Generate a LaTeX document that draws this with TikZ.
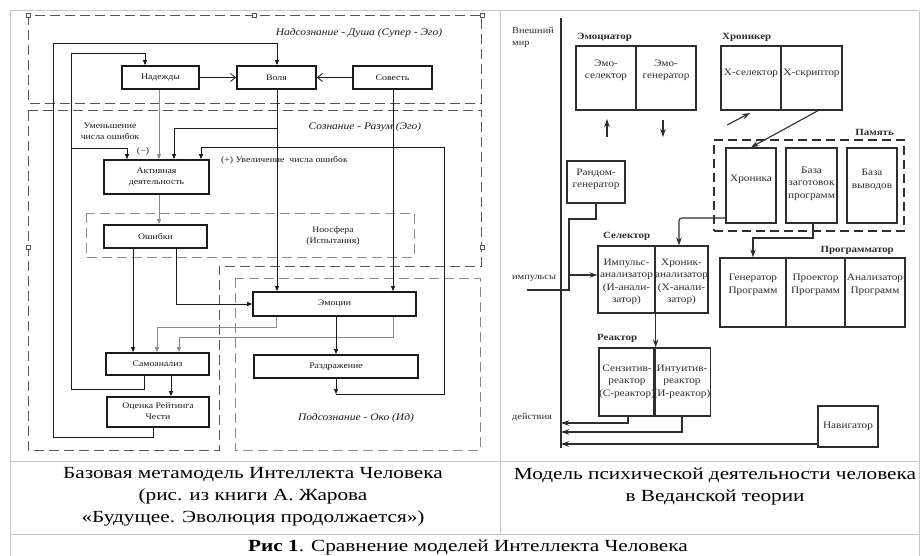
\documentclass[tikz,border=0pt]{standalone}
\usepackage{fontspec}
\setmainfont{Liberation Serif}
\newfontfamily\capfont[FakeStretch=1.25]{Liberation Serif}
\newfontfamily\dfont[FakeStretch=1.15]{Liberation Serif}
\usetikzlibrary{arrows.meta,calc}
\newcommand\upT[2]{\raisebox{#1}[\height][\depth]{\begin{tabular}{@{}c@{}}#2\end{tabular}}}
\definecolor{ink}{HTML}{1A1A1A}
\definecolor{rink}{HTML}{2E2E2E}
\definecolor{tline}{HTML}{C8C8C8}
\definecolor{dgray}{HTML}{555555}
\definecolor{lgray}{HTML}{8A8A8A}
\tikzset{
  lbox/.style={draw=ink, line width=1.8pt, fill=white, inner sep=0pt, font=\dfont\fontsize{8.5}{11}\selectfont, text=ink},
  rbox/.style={draw=rink, line width=1.3pt, inner sep=0pt, font=\dfont\fontsize{9.8}{12.5}\selectfont, text=rink},
  conn/.style={draw=ink, line width=0.8pt, -{Triangle[length=5pt,width=4pt]}},
  bconn/.style={draw=ink, line width=0.8pt, -{Straight Barb[length=5pt,width=8pt]}},
  region/.style={draw=dgray, line width=0.9pt, dash pattern=on 10pt off 5pt},
  lregion/.style={draw=lgray, line width=0.8pt, dash pattern=on 10pt off 5pt},
  ilab/.style={font=\dfont\itshape\fontsize{10}{12}\selectfont, text=ink, inner sep=0pt},
  slab/.style={font=\dfont\fontsize{8.5}{11}\selectfont, text=ink, inner sep=0pt},
  handle/.style={draw=dgray, fill=white, line width=0.6pt},
  rline/.style={draw=rink, line width=1.1pt},
  rarrow/.style={draw=rink, line width=1.1pt, -{Stealth[length=8pt,width=5.5pt]}},
  rtitle/.style={font=\dfont\bfseries\fontsize{9.5}{12}\selectfont, text=rink, inner sep=0pt},
  rlab/.style={font=\dfont\fontsize{9}{12}\selectfont, text=rink, inner sep=0pt},
  pambox/.style={draw=rink, line width=1.3pt, dash pattern=on 9pt off 5pt, inner sep=0pt},
  captxt/.style={font=\capfont\fontsize{17}{22}\selectfont, text=black, inner sep=0pt, align=center},
  tl/.style={draw=tline, line width=1pt}
}
\begin{document}
\begin{tikzpicture}[x=1pt, y=-1pt]
\useasboundingbox (0,0) rectangle (920,556);
\fill[white] (0,0) rectangle (920,556);
% table lines
\draw[tl] (10,11) -- (919,11);
\draw[tl] (10,11) -- (10,556);
\draw[tl] (919,11) -- (919,556);
\draw[tl] (10,461) -- (919,461);
\draw[tl] (10,534) -- (919,534);
\draw[tl] (500,11) -- (500,534);

% ===== LEFT DIAGRAM =====
\draw[region] (28,15) rectangle (481,103);
\draw[region] (28,110) -- (481,110) -- (481,266) -- (219,266) -- (219,450) -- (28,450) -- cycle;
\draw[lregion] (235,278) rectangle (480,450);
\draw[lregion] (86,213) rectangle (414,257);
\foreach \p in {(28,15),(254,15),(482,15),(28,247),(482,247)}
  \draw[handle] \p ++(-2,-2) rectangle ++(4,4);

\node[ilab] (lNad) at (359,33) {Надсознание - Душа (Супер - Эго)};
\node[ilab] (lSoz) at (365,127) {Сознание - Разум (Эго)};
\node[ilab] (lPod) at (356,418) {Подсознание - Око (Ид)};
\node[slab, align=center] (lNoo) at (333,236) {Ноосфера\\(Испытания)};
\node[slab, align=center] (lUm) at (110,131) {Уменьшение\\числа ошибок};
\node[slab] (lMinus) at (143,151) {(−)};
\node[slab, anchor=west] (lPlus) at (221,160) {(+) Увеличение\ \ числа ошибок};

\node[lbox, minimum width=77, minimum height=23] (nad) at (160.5,77.5) {Надежды};
\node[lbox, minimum width=79, minimum height=23] (vol) at (276.5,77.5) {Воля};
\node[lbox, minimum width=79, minimum height=23] (sov) at (392.5,77.5) {Совесть};
\node[lbox, minimum width=105, minimum height=34] (akt) at (156.5,177) {\upT{0pt}{Активная\\деятельность}};
\node[lbox, minimum width=103, minimum height=23] (osh) at (155.5,236.5) {Ошибки};
\node[lbox, minimum width=163, minimum height=24] (emo) at (334.5,304) {Эмоции};
\node[lbox, minimum width=164, minimum height=23] (raz) at (336,366.5) {Раздражение};
\node[lbox, minimum width=103, minimum height=22] (sam) at (157.5,364) {Самоанализ};
\node[lbox, minimum width=102, minimum height=30] (ots) at (158,412) {\upT{0pt}{Оценка Рейтинга\\Чести}};

\draw[conn] (153,0 |- ots.south) -- (153,437) -| (53,43) -| (277,0 |- vol.north);
\draw[conn] (144,0 |- sam.south) -- (144,389) -| (71,53) -| (145,0 |- nad.north);
\draw[conn] (71,148) -| (127,0 |- akt.north);
\draw[conn, draw=lgray] (159,0 |- nad.south) -- (159,0 |- akt.north);
\draw[conn] (277,0 |- vol.south) -- (277,0 |- emo.north);
\draw[conn] (277,128) -| (174,0 |- akt.north);
\draw[conn] (393,0 |- sov.south) -- (393,0 |- emo.north);
\coordinate (r1) at (336,394);
\draw[conn] (336,0 |- raz.south) -- (r1);
\draw[conn] (r1) -- (444,394) |- (201,147) -- (201,0 |- akt.north);
\draw[conn, draw=lgray] (159,0 |- akt.south) -- (159,0 |- osh.north);
\draw[conn] (133,0 |- osh.south) -- (133,0 |- sam.north);
\draw[conn] (176,0 |- osh.south) |- (emo.west);
\draw[conn, draw=lgray] (276,0 |- emo.south) -- (276,327) -| (157,0 |- sam.north);
\draw[conn, draw=lgray] (393,0 |- emo.south) -- (393,337) -| (179,0 |- sam.north);
\draw[conn] (336,0 |- emo.south) -- (336,0 |- raz.north);
\draw[conn] (171,0 |- sam.south) -- (171,0 |- ots.north);
\draw[bconn] (nad.east) -- (vol.west);
\draw[bconn] (sov.west) -- (vol.east);

% ===== RIGHT DIAGRAM =====
\coordinate (wtop) at (561,18);
\coordinate (wbot) at (561,448);
\draw[draw=rink, line width=1.4pt] (wtop) -- (wbot);

\node[rlab, anchor=north west, align=left] (tWorld) at (512,27) {Внешний\\мир};
\node[rtitle, anchor=west] (tEmoc) at (577,37) {Эмоциатор};
\node[rtitle, anchor=west] (tChr) at (722,37) {Хроникер};
\node[rtitle, anchor=east] (tPam) at (894,132) {Память};
\node[rtitle, anchor=west] (tSel) at (603,236) {Селектор};
\node[rtitle, anchor=east] (tProg) at (894,250) {Программатор};
\node[rtitle, anchor=west] (tRea) at (597,338) {Реактор};
\node[rlab, anchor=west] (tImp) at (512,278) {импульсы};
\node[rlab, anchor=west] (tDej) at (512,417) {действия};

\node[rbox, minimum width=60, minimum height=64] (emoSel) at (606,78) {\upT{8pt}{Эмо-\\селектор}};
\node[rbox, minimum width=60, minimum height=64] (emoGen) at (666,78) {\upT{8pt}{Эмо-\\генератор}};
\node[rbox, minimum width=60, minimum height=64] (chrSel) at (751,78) {\upT{5pt}{Х-селектор}};
\node[rbox, minimum width=61, minimum height=64] (chrScr) at (811.5,78) {\upT{5pt}{Х-скриптор}};
\node[pambox, minimum width=190, minimum height=91] (pam) at (809,185.5) {};
\node[rbox, minimum width=50, minimum height=75] (chron) at (751,185.5) {\upT{6pt}{Хроника}};
\node[rbox, minimum width=51, minimum height=75] (bazaZ) at (811.5,185.5) {\upT{2pt}{База\\заготовок\\программ}};
\node[rbox, minimum width=50, minimum height=75] (bazaV) at (872,185.5) {\upT{6pt}{База\\выводов}};
\node[rbox, minimum width=58, minimum height=42] (rand) at (596,182) {\upT{3pt}{Рандом-\\генератор}};
\node[rbox, minimum width=57, minimum height=67] (impA) at (626.5,279.5) {\upT{-2pt}{Импульс-\\анализатор\\(И-анали-\\затор)}};
\node[rbox, minimum width=53, minimum height=67] (chrA) at (681.5,279.5) {\upT{-2pt}{Хроник-\\анализатор\\(Х-анали-\\затор)}};
\node[rbox, minimum width=66, minimum height=69] (gen) at (753,292.5) {\upT{8pt}{Генератор\\Программ}};
\node[rbox, minimum width=59, minimum height=69] (proj) at (815.5,292.5) {\upT{8pt}{Проектор\\Программ}};
\node[rbox, minimum width=60, minimum height=69] (anal) at (875,292.5) {\upT{8pt}{Анализатор\\Программ}};
\node[rbox, minimum width=56, minimum height=68] (sens) at (627,382) {\upT{1pt}{Сензитив-\\реактор\\(С-реактор)}};
\node[rbox, minimum width=54, minimum height=68] (intu) at (682,382) {\upT{1pt}{Интуитив-\\реактор\\(И-реактор)}};
\node[rbox, minimum width=60, minimum height=41] (nav) at (848,426.5) {Навигатор};

\coordinate (eu1) at (607,137); \coordinate (eu2) at (607,119);
\draw[rarrow] (eu1) -- (eu2);
\coordinate (ed1) at (663,120); \coordinate (ed2) at (663,137);
\draw[rarrow] (ed1) -- (ed2);
\coordinate (cd1) at (727,125); \coordinate (cd2) at (750,113);
\draw[rarrow] (cd1) -- (cd2);
\draw[rarrow] (818,0 |- chrScr.south) -- (chron.north);
\draw[rarrow, rounded corners=3pt] (chron.west |- 0,218) -| (679,0 |- chrA.north);
\draw[rarrow] (813,0 |- bazaZ.south) -- (813,238) -| (gen.north);
\coordinate (imp) at (527,290);
\draw[rline] (rand.south) -- (596,219) -| (569,290) -- (imp);
\coordinate (impIn) at (569,275);
\draw[rarrow] (impIn) -- (impA.west |- impIn);
\draw[rarrow] (impA.south east) -- (sens.north east);
\draw[rarrow] (628,0 |- sens.south) |- (wtop |- 0,423);
\draw[rarrow] (682,0 |- intu.south) |- (wtop |- 0,432);
\draw[rarrow] (nav.west |- 0,444) -- (wtop |- 0,444);

% ===== CAPTIONS =====
\node[captxt] (cL) at (253,497) {Базовая метамодель Интеллекта Человека\\(рис. из книги А. Жарова\\«Будущее. Эволюция продолжается»)};
\node[captxt] (cR) at (715,486) {Модель психической деятельности человека\\в Веданской теории};
\node[captxt] (cB) at (468,547) {\textbf{Рис 1}. Сравнение моделей Интеллекта Человека};
\end{tikzpicture}
\end{document}
